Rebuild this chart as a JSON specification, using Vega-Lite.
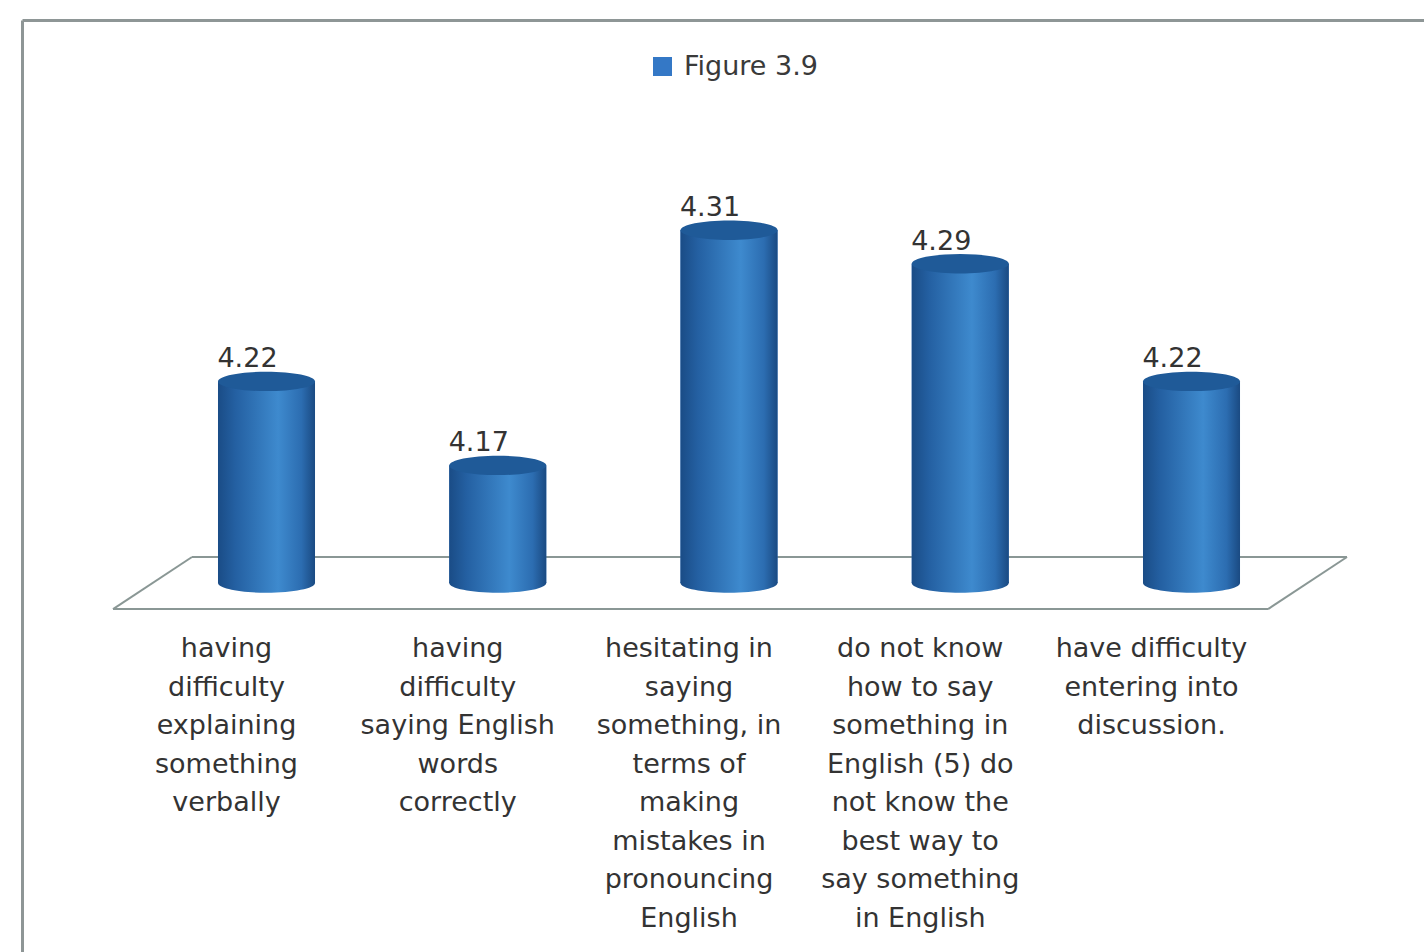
{
  "$schema": "https://vega.github.io/schema/vega-lite/v6.json",
  "width": 1402,
  "height": 932,
  "autosize": {"type": "none"},
  "padding": {"left": 22, "top": 20, "right": 0, "bottom": 0},
  "background": "white",
  "config": {
    "view": {"stroke": null},
    "font": "DejaVu Sans",
    "axis": {"labels": false, "ticks": false, "grid": false, "title": null, "domainColor": "#8e9696", "domainWidth": 3}
  },
  "datasets": {
    "bars": [
      {"item": "Q1", "value": 4.22, "label": "having|difficulty|explaining|something|verbally"},
      {"item": "Q2", "value": 4.17, "label": "having|difficulty|saying English|words|correctly"},
      {"item": "Q3", "value": 4.31, "label": "hesitating in|saying|something, in|terms of|making|mistakes in|pronouncing|English"},
      {"item": "Q4", "value": 4.29, "label": "do not know|how to say|something in|English (5) do|not know the|best way to|say something|in English"},
      {"item": "Q5", "value": 4.22, "label": "have difficulty|entering into|discussion."}
    ],
    "one": [{"k": 1}]
  },
  "layer": [
    {
      "data": {"name": "one"},
      "mark": {"type": "rule", "color": "#8a9795", "strokeWidth": 2, "xOffset": -153.5, "x2Offset": 76.5},
      "encoding": {
        "x": {"datum": "Q1", "type": "nominal", "scale": {"domain": ["Q1", "Q2", "Q3", "Q4", "Q5"], "paddingInner": 0.5805, "paddingOuter": 0.8216, "align": 0.5158}, "axis": {"orient": "top"}},
        "x2": {"datum": "Q5"},
        "y": {"datum": 4.0845, "type": "quantitative", "scale": {"domain": [3.8804, 4.4351], "zero": false, "nice": false}, "axis": {"orient": "left"}}
      }
    },
    {
      "data": {"name": "one"},
      "mark": {"type": "rule", "color": "#8a9795", "strokeWidth": 2, "xOffset": -74.5, "x2Offset": 155.5},
      "encoding": {
        "x": {"datum": "Q1", "type": "nominal"},
        "x2": {"datum": "Q5"},
        "y": {"datum": 4.1155, "type": "quantitative"}
      }
    },
    {
      "data": {"name": "one"},
      "mark": {"type": "rule", "color": "#8a9795", "strokeWidth": 2, "xOffset": -153.5, "x2Offset": -74.5},
      "encoding": {
        "x": {"datum": "Q1", "type": "nominal"},
        "x2": {"datum": "Q1"},
        "y": {"datum": 4.0845, "type": "quantitative"},
        "y2": {"datum": 4.1155}
      }
    },
    {
      "data": {"name": "one"},
      "mark": {"type": "rule", "color": "#8a9795", "strokeWidth": 2, "xOffset": 76.5, "x2Offset": 155.5},
      "encoding": {
        "x": {"datum": "Q5", "type": "nominal"},
        "x2": {"datum": "Q5"},
        "y": {"datum": 4.0845, "type": "quantitative"},
        "y2": {"datum": 4.1155}
      }
    },
    {
      "data": {"name": "bars"},
      "mark": {"type": "bar"},
      "encoding": {
        "x": {"field": "item", "type": "nominal"},
        "y": {"field": "value", "type": "quantitative"},
        "y2": {"datum": 4.10},
        "color": {
          "datum": "Figure 3.9", "type": "nominal",
          "scale": {"range": ["#3478c6"]},
          "legend": {"orient": "none", "legendX": 627, "legendY": 33, "title": null, "symbolType": "square", "symbolSize": 360, "symbolStrokeWidth": 0, "labelFontSize": 27, "labelColor": "#3a3a3a", "labelFont": "DejaVu Sans", "padding": 0, "labelOffset": 8}
        }
      }
    },
    {
      "data": {"name": "bars"},
      "mark": {
        "type": "bar",
        "fill": {"gradient": "linear", "x1": 0, "y1": 0, "x2": 1, "y2": 0,
          "stops": [
            {"offset": 0, "color": "#1a4c86"},
            {"offset": 0.18, "color": "#2460a2"},
            {"offset": 0.62, "color": "#3e8ace"},
            {"offset": 0.86, "color": "#2c6db1"},
            {"offset": 1, "color": "#1a4a82"}
          ]}
      },
      "encoding": {
        "x": {"field": "item", "type": "nominal"},
        "y": {"field": "value", "type": "quantitative"},
        "y2": {"datum": 4.10}
      }
    },
    {
      "data": {"name": "bars"},
      "mark": {
        "type": "point", "filled": true, "strokeWidth": 0, "opacity": 1, "size": 9409,
        "shape": "M -1 0 A 1 0.2 0 1 1 1 0 A 1 0.2 0 1 1 -1 0 Z",
        "fill": {"gradient": "linear", "x1": 0, "y1": 0, "x2": 1, "y2": 0,
          "stops": [
            {"offset": 0, "color": "#1a4c86"},
            {"offset": 0.18, "color": "#2460a2"},
            {"offset": 0.62, "color": "#3e8ace"},
            {"offset": 0.86, "color": "#2c6db1"},
            {"offset": 1, "color": "#1a4a82"}
          ]}
      },
      "encoding": {
        "x": {"field": "item", "type": "nominal"},
        "y": {"datum": 4.10, "type": "quantitative"}
      }
    },
    {
      "data": {"name": "bars"},
      "mark": {
        "type": "point", "filled": true, "strokeWidth": 0, "opacity": 1, "size": 9409,
        "shape": "M -1 0 A 1 0.2 0 1 1 1 0 A 1 0.2 0 1 1 -1 0 Z",
        "fill": "#1f5a98"
      },
      "encoding": {
        "x": {"field": "item", "type": "nominal"},
        "y": {"field": "value", "type": "quantitative"}
      }
    },
    {
      "data": {"name": "bars"},
      "mark": {"type": "text", "fontSize": 27, "color": "#333333", "dx": -19, "dy": -14, "baseline": "alphabetic", "align": "center"},
      "encoding": {
        "x": {"field": "item", "type": "nominal"},
        "y": {"field": "value", "type": "quantitative"},
        "text": {"field": "value", "type": "quantitative", "format": ".2f"}
      }
    },
    {
      "data": {"name": "bars"},
      "mark": {"type": "text", "fontSize": 27, "color": "#333333", "dx": -40, "dy": 74, "baseline": "alphabetic", "align": "center", "lineBreak": "|", "lineHeight": 38.5},
      "encoding": {
        "x": {"field": "item", "type": "nominal"},
        "y": {"datum": 4.10, "type": "quantitative"},
        "text": {"field": "label", "type": "nominal"}
      }
    }
  ]
}
